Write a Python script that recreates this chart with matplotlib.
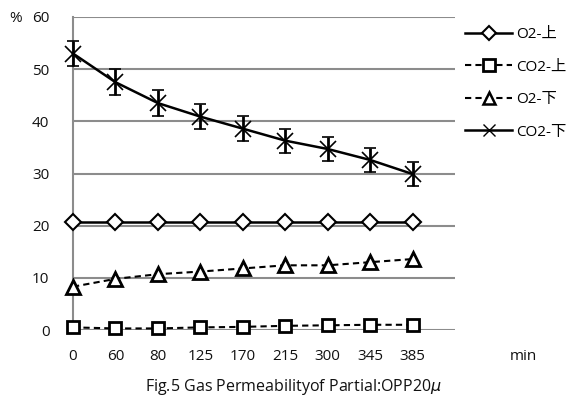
import matplotlib.pyplot as plt
from matplotlib.lines import Line2D

plt.rcParams['font.family'] = ['Open Sans', 'Noto Sans CJK JP', 'DejaVu Sans']

# data
minutes = ['0', '60', '80', '125', '170', '215', '300', '345', '385']
o2_up = [20.7, 20.7, 20.7, 20.7, 20.7, 20.7, 20.7, 20.7, 20.7]
co2_up = [0.5, 0.3, 0.3, 0.5, 0.6, 0.8, 0.9, 1.0, 1.0]
o2_down = [8.3, 9.8, 10.7, 11.2, 11.8, 12.4, 12.4, 13.0, 13.6]
co2_down = [53.0, 47.5, 43.5, 40.9, 38.6, 36.3, 34.7, 32.6, 29.9]
co2_down_err = [2.4, 2.5, 2.5, 2.4, 2.4, 2.3, 2.3, 2.3, 2.3]

x = list(range(len(minutes)))

fig = plt.figure(figsize=(5.82, 4.07), dpi=100)
ax = fig.add_axes([73 / 582, 1 - 330 / 407, (455 - 73) / 582, (330 - 17) / 407])

ax.plot(x, o2_up, color='black', lw=1.8, marker='D', ms=8, mfc='white', mec='black', mew=1.5,
        clip_on=False, zorder=3)
ax.plot(x, co2_up, color='black', lw=1.5, ls=(0, (3, 2)), marker='s', ms=9, mfc='white', mec='black', mew=2.0,
        clip_on=False, zorder=3)
ax.plot(x, o2_down, color='black', lw=1.5, ls=(0, (3, 2)), marker='^', ms=10, mfc='white', mec='black', mew=2.0,
        clip_on=False, zorder=3)
eb = ax.errorbar(x, co2_down, yerr=co2_down_err, color='black', lw=1.8, marker='x', ms=11, mew=1.2,
                 ecolor='black', elinewidth=2.0, capsize=4, capthick=2.0, zorder=3)
eb.lines[0].set_clip_on(False)
for a in eb.lines[1] + eb.lines[2]:
    a.set_clip_on(False)

ax.set_xlim(0, 9)
ax.set_ylim(0, 60)
ax.set_yticks(range(0, 61, 10))
ax.set_xticks(x)
ax.set_xticklabels(minutes)
ax.yaxis.grid(True, color='#8c8c8c', lw=1.5)
ax.set_axisbelow(True)
ax.tick_params(length=0, labelsize=11, colors='#111111')
ax.tick_params(axis='y', pad=17)
ax.tick_params(axis='x', pad=14)
for s in ['top', 'right', 'bottom']:
    ax.spines[s].set_visible(False)
ax.spines['left'].set_color('#8c8c8c')
ax.spines['left'].set_linewidth(1.5)

handles = [
    Line2D([], [], color='black', lw=1.8, marker='D', ms=7, mfc='white', mec='black', mew=1.5),
    Line2D([], [], color='black', lw=1.5, ls=(0, (3, 2)), marker='s', ms=8, mfc='white', mec='black', mew=2.0),
    Line2D([], [], color='black', lw=1.5, ls=(0, (3, 2)), marker='^', ms=8, mfc='white', mec='black', mew=1.8),
    Line2D([], [], color='black', lw=1.8, marker='x', ms=9, mew=1.0),
]
fig.legend(handles, ['O2-上', 'CO2-上', 'O2-下', 'CO2-下'], loc='upper left',
           bbox_to_anchor=(465 / 582, 1 - 27 / 407), frameon=False, fontsize=11,
           handlelength=3.1, handletextpad=0.25, labelspacing=1.15, borderaxespad=0, borderpad=0)

fig.text(9 / 582, 1 - 18 / 407, '%', fontsize=11, va='center', color='#111111')
fig.text(510 / 582, 1 - 356 / 407, 'min', fontsize=11, va='center', color='#111111')
fig.text(293 / 582, 1 - 387 / 407, 'Fig.5 Gas Permeabilityof Partial:OPP20$\\mu$', fontsize=11.5,
         ha='center', va='center', color='#111111')

fig.savefig('out.png', dpi=100)
